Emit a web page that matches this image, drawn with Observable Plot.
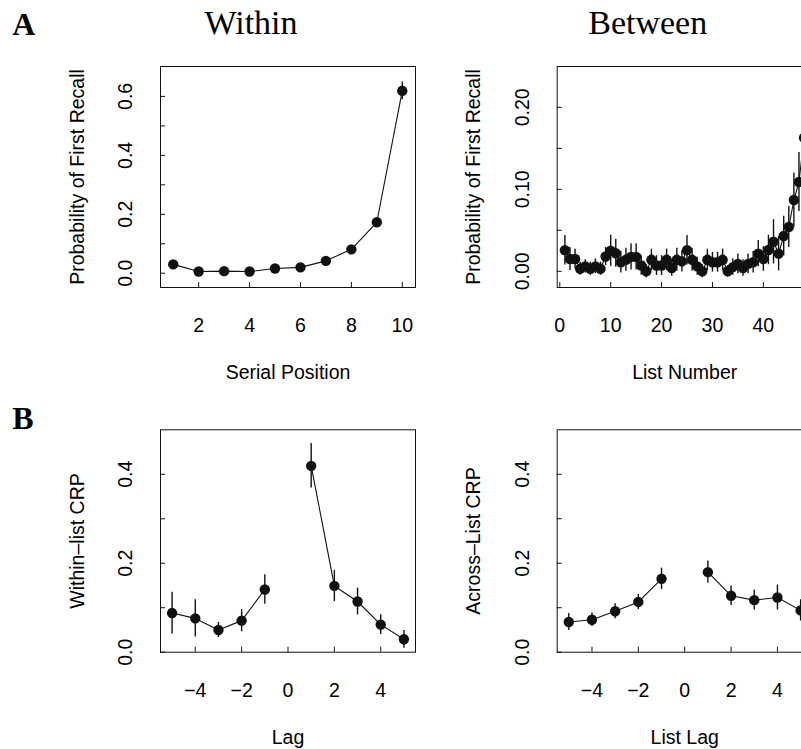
<!DOCTYPE html>
<html>
<head>
<meta charset="utf-8">
<script src="https://cdn.jsdelivr.net/npm/d3@7"></script>
<script src="https://cdn.jsdelivr.net/npm/@observablehq/plot@0.6"></script>
<style>
html, body { margin: 0; padding: 0; background: #fff; }
#fig { position: relative; width: 801px; height: 749px; overflow: hidden; background: #fff; }
</style>
</head>
<body>
<div id="fig"></div>
<script>
// ---------- Data ----------
// Panel A, Within: probability of first recall by serial position
const serialPositions = [1, 2, 3, 4, 5, 6, 7, 8, 9, 10];
const withinFirstRecall = [0.030, 0.006, 0.007, 0.006, 0.016, 0.020, 0.042, 0.081, 0.173, 0.619];
const withinFirstRecallErr = [0.004, 0.002, 0.002, 0.002, 0.003, 0.003, 0.005, 0.008, 0.012, 0.030];

// Panel A, Between: probability of first recall by list number
const listNumbers = [1, 2, 3, 4, 5, 6, 7, 8, 9, 10, 11, 12, 13, 14, 15, 16, 17, 18, 19, 20,
  21, 22, 23, 24, 25, 26, 27, 28, 29, 30, 31, 32, 33, 34, 35, 36, 37, 38, 39, 40,
  41, 42, 43, 44, 45, 46, 47, 48];
const betweenFirstRecall = [0.0256, 0.015, 0.015, 0.003, 0.006, 0.003, 0.006, 0.003, 0.018, 0.025,
  0.022, 0.011, 0.014, 0.0175, 0.0175, 0.007, 0.000, 0.014, 0.007, 0.007,
  0.014, 0.004, 0.014, 0.012, 0.0256, 0.014, 0.006, 0.000, 0.014, 0.011,
  0.011, 0.014, 0.000, 0.005, 0.009, 0.004, 0.009, 0.011, 0.0215, 0.015,
  0.026, 0.036, 0.0215, 0.043, 0.054, 0.087, 0.109, 0.163];
const betweenFirstRecallErr = [0.018, 0.014, 0.012, 0.008, 0.008, 0.008, 0.009, 0.008, 0.011, 0.019,
  0.017, 0.013, 0.014, 0.016, 0.016, 0.012, 0.008, 0.013, 0.012, 0.012,
  0.013, 0.010, 0.014, 0.013, 0.018, 0.014, 0.011, 0.008, 0.013, 0.012,
  0.012, 0.013, 0.007, 0.010, 0.012, 0.010, 0.012, 0.013, 0.016, 0.015,
  0.018, 0.027, 0.021, 0.024, 0.025, 0.033, 0.036, 0.040];

// Panel B: conditional response probability by lag
const lags = [-5, -4, -3, -2, -1, 1, 2, 3, 4, 5];
const withinCRP = [0.088, 0.076, 0.050, 0.071, 0.141, 0.419, 0.149, 0.114, 0.062, 0.029];
const withinCRPErr = [0.047, 0.042, 0.017, 0.025, 0.033, 0.050, 0.035, 0.030, 0.022, 0.020];
const acrossCRP = [0.068, 0.073, 0.092, 0.113, 0.165, 0.180, 0.127, 0.117, 0.123, 0.094];
const acrossCRPErr = [0.019, 0.015, 0.017, 0.017, 0.024, 0.025, 0.022, 0.022, 0.028, 0.024];

// Tick values
const spTicks = [2, 4, 6, 8, 10];
const listTicks = [0, 10, 20, 30, 40];
const lagTicks = [-4, -2, 0, 2, 4];
const withinYTicks = [0, 0.1, 0.2, 0.3, 0.4, 0.5, 0.6];
const withinYLabels = [0, 0.2, 0.4, 0.6];
const betweenYTicks = [0, 0.05, 0.10, 0.15, 0.20];
const betweenYLabels = [0, 0.10, 0.20];
const crpYTicks = [0, 0.1, 0.2, 0.3, 0.4];
const crpYLabels = [0, 0.2, 0.4];

// ---------- Drawing ----------
const ink = "#111";
const sans = "'Liberation Sans', Arial, Helvetica, sans-serif";
const serif = "'Liberation Serif', 'Times New Roman', serif";
const fig = document.getElementById("fig");

function rows(xs, ys, es, group) {
  return xs.map((x, i) => ({x, y: ys[i], lo: ys[i] - es[i], hi: ys[i] + es[i], g: group ? group(x) : 0}));
}

function panel(cfg) {
  const marks = [
    Plot.frame({stroke: ink, strokeWidth: 1}),
    Plot.axisX(cfg.xTicks, {anchor: "bottom", tickSize: 5, dy: -5, tickFormat: () => "", stroke: ink, label: null}),
    Plot.axisX(cfg.xTicks, {anchor: "bottom", tickSize: 0, tickPadding: 30.6, tickFormat: cfg.xFormat, fill: "#000", label: null}),
    Plot.axisY(cfg.yTicks, {anchor: "left", tickSize: 5, dx: 5, tickFormat: () => "", stroke: ink, label: null}),
    Plot.axisY(cfg.yLabels, {anchor: "left", tickSize: 0, tickPadding: 28.3, tickRotate: -90, tickFormat: cfg.yFormat, fill: "#000", label: null}),
    Plot.ruleX(cfg.data, {x: "x", y1: "lo", y2: "hi", stroke: ink, strokeWidth: 1.4}),
    Plot.line(cfg.data, {x: "x", y: "y", z: "g", stroke: ink, strokeWidth: 1.1}),
    Plot.dot(cfg.data, {x: "x", y: "y", r: 5.2, fill: ink, stroke: "none"}),
    Plot.text([cfg.xTitle], {text: d => d, frameAnchor: "bottom", dy: 91.5, lineAnchor: "bottom", fill: "#000"}),
    Plot.text([cfg.yTitle], {text: d => d, frameAnchor: "left", dx: -77, rotate: -90, textAnchor: "middle", lineAnchor: "bottom", fill: "#000"}),
    ...(cfg.extra || [])
  ];
  const svg = Plot.plot({
    width: cfg.width,
    height: cfg.height,
    marginLeft: cfg.marginLeft,
    marginRight: cfg.marginRight,
    marginTop: cfg.marginTop,
    marginBottom: cfg.marginBottom,
    x: {domain: cfg.xDomain},
    y: {domain: cfg.yDomain},
    style: {fontFamily: sans, fontSize: "19.5px", background: "transparent", color: ink, overflow: "visible"},
    marks
  });
  svg.style.position = "absolute";
  svg.style.left = cfg.left + "px";
  svg.style.top = cfg.top + "px";
  fig.appendChild(svg);
}

const fmt1 = d3.format(".1f");
const fmt2 = d3.format(".2f");
const fmtInt = d => (d < 0 ? "\u2212" : "") + Math.abs(d);

// A: Within
panel({
  left: 0, top: 0, width: 420, height: 390,
  marginLeft: 160, marginRight: 5, marginTop: 66, marginBottom: 103,
  xDomain: [0.5, 10.52], yDomain: [-0.0484, 0.7015],
  xTicks: spTicks, xFormat: fmtInt,
  yTicks: withinYTicks, yLabels: withinYLabels, yFormat: fmt1,
  data: rows(serialPositions, withinFirstRecall, withinFirstRecallErr),
  xTitle: "Serial Position", yTitle: "Probability of First Recall",
  extra: [
    Plot.text(["A"], {text: d => d, frameAnchor: "top-left", dx: -148.3, dy: -31.7, textAnchor: "start", lineAnchor: "bottom", fontFamily: serif, fontWeight: "bold", fontSize: 32, fill: "#000"}),
    Plot.text(["Within"], {text: d => d, frameAnchor: "top", dx: -37, dy: -32.7, lineAnchor: "bottom", fontFamily: serif, fontSize: 34, fill: "#000"})
  ]
});

// A: Between
panel({
  left: 400, top: 0, width: 430, height: 390,
  marginLeft: 156.7, marginRight: 18.3, marginTop: 66, marginBottom: 103,
  xDomain: [-0.51, 49.6], yDomain: [-0.0198, 0.2499],
  xTicks: listTicks, xFormat: fmtInt,
  yTicks: betweenYTicks, yLabels: betweenYLabels, yFormat: fmt2,
  data: rows(listNumbers, betweenFirstRecall, betweenFirstRecallErr),
  xTitle: "List Number", yTitle: "Probability of First Recall",
  extra: [
    Plot.text(["Between"], {text: d => d, frameAnchor: "top", dx: -37, dy: -32.7, lineAnchor: "bottom", fontFamily: serif, fontSize: 34, fill: "#000"})
  ]
});

// B: Within-list CRP
panel({
  left: 0, top: 380, width: 420, height: 369,
  marginLeft: 160, marginRight: 5, marginTop: 49.3, marginBottom: 97.3,
  xDomain: [-5.5, 5.5], yDomain: [0, 0.5],
  xTicks: lagTicks, xFormat: fmtInt,
  yTicks: crpYTicks, yLabels: crpYLabels, yFormat: fmt1,
  data: rows(lags, withinCRP, withinCRPErr, x => x < 0 ? "neg" : "pos"),
  xTitle: "Lag", yTitle: "Within\u2013list CRP",
  extra: [
    Plot.text(["B"], {text: d => d, frameAnchor: "top-left", dx: -148.3, dy: -1, textAnchor: "start", lineAnchor: "bottom", fontFamily: serif, fontWeight: "bold", fontSize: 32, fill: "#000"})
  ]
});

// B: Across-list CRP
panel({
  left: 400, top: 380, width: 430, height: 369,
  marginLeft: 156.7, marginRight: 18.3, marginTop: 49.3, marginBottom: 97.3,
  xDomain: [-5.5, 5.5], yDomain: [0, 0.5],
  xTicks: lagTicks, xFormat: fmtInt,
  yTicks: crpYTicks, yLabels: crpYLabels, yFormat: fmt1,
  data: rows(lags, acrossCRP, acrossCRPErr, x => x < 0 ? "neg" : "pos"),
  xTitle: "List Lag", yTitle: "Across\u2013List CRP"
});
</script>
</body>
</html>
